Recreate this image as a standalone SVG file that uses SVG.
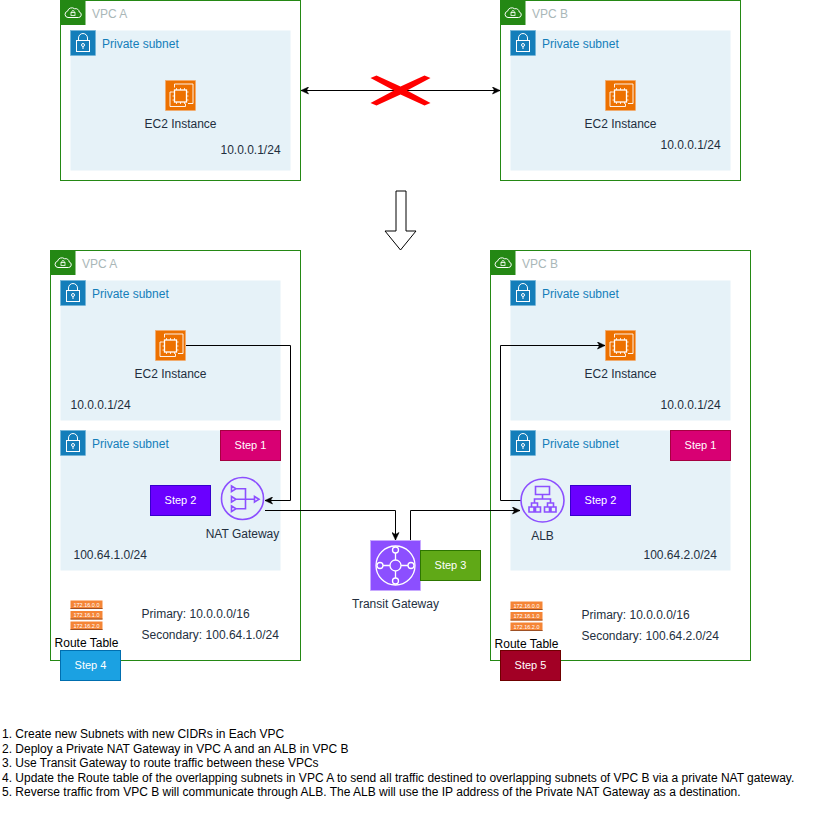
<svg xmlns="http://www.w3.org/2000/svg" width="820" height="821" viewBox="0 0 820 821">
<style>
text{font-family:"Liberation Sans",Arial,sans-serif;font-size:12px;fill:#232F3E}
.vpc{fill:#fff;stroke:#248814;stroke-width:1}
.vl{fill:#AAB7B8}
.sub{fill:#E6F2F8}
.sl{fill:#147EBA}
.blk{fill:#000}
.c{text-anchor:middle}
.st{font-size:11px;fill:#fff;text-anchor:middle}
.conn{fill:none;stroke:#000;stroke-width:1}
.w{fill:none;stroke:#fff}
.p{fill:none;stroke:#8C4FFF;stroke-width:1.6}
.rt{font-size:5.5px;fill:#fff;text-anchor:middle}
</style>
<defs>
<marker id="a" markerWidth="9" markerHeight="8" refX="8" refY="4" orient="auto-start-reverse" markerUnits="userSpaceOnUse"><path d="M0.5 0.5L8 4L0.5 7.5L2.5 4Z" fill="#000" stroke="#000" stroke-width="0.6"/></marker>
<g id="vi">
<rect width="25" height="25" fill="#248814"/>
<path class="w" stroke-width="1" d="M7.500 17.500h10.500a2.800 2.800 0 0 0 .7-5.500a3.500 3.500 0 0 0-4.500-3.200a4.500 4.500 0 0 0-7.200 2.400a3.200 3.200 0 0 0 .5 6.300z"/>
<rect x="10.500" y="12.500" width="4" height="3" class="w" stroke-width="0.800"/><path class="w" stroke-width="0.800" d="M11.300 12.500v-.8a1.200 1.200 0 0 1 2.400 0v.8"/>
</g>
<g id="si">
<rect x="0" y="0" width="25" height="25" fill="#147EBA" stroke="#6fb2d8" stroke-width="0.600"/>
<rect x="6" y="10" width="13" height="11" class="w"/><path class="w" d="M8 10V7.500a4.500 4.500 0 0 1 9 0V10"/><circle cx="12.500" cy="14.500" r="1.500" class="w"/><path class="w" d="M12.500 16v2.500"/>
</g>
<g id="ec">
<rect x="0" y="0" width="30" height="30" fill="#ED7100" stroke="#f5a868" stroke-width="0.600"/>
<path class="w" stroke="#fff" stroke-width="0.900" d="M9 7V3.500h18.500V23h-5"/>
<path class="w" stroke-width="0.900" d="M7 11.500H4.500V26H20v-3"/>
<rect x="9" y="9.500" width="12" height="12" class="w" stroke-width="1.300"/>
<path class="w" stroke-width="0.800" d="M11 7.500v2M15 7.500v2M19 7.500v2M11 21.500v2M15 21.500v2M19 21.500v2M7 11.500h2M7 15.500h2M7 19.500h2M21 11.500h2M21 15.500h2M21 19.500h2"/>
</g>
<g id="rt">
<rect x="0" y="0" width="32" height="8.500" fill="#F58536"/><rect x="0" y="10.500" width="32" height="8.500" fill="#F58536"/><rect x="0" y="21" width="32" height="8.500" fill="#F58536"/>
<rect x="0" y="7.500" width="32" height="1" fill="#9d5025"/><rect x="0" y="18" width="32" height="1" fill="#9d5025"/><rect x="0" y="28.500" width="32" height="1" fill="#9d5025"/>
<text class="rt" x="16" y="6">172.16.0.0</text><text class="rt" x="16" y="16.500">172.16.1.0</text><text class="rt" x="16" y="27">172.16.2.0</text>
</g>
</defs>
<rect width="820" height="821" fill="#fff"/>

<g id="vpc-a-top">
<rect class="vpc" x="60.500" y="0.500" width="240" height="180"/><use href="#vi" x="60.500" y="0"/><text class="vl" x="92" y="18">VPC A</text>
<rect class="sub" x="70.500" y="30.500" width="220" height="140"/><use href="#si" x="70.500" y="30.500"/><text class="sl" x="102" y="48">Private subnet</text>
<use href="#ec" x="165.500" y="80.500"/><text class="c" x="180.500" y="128">EC2 Instance</text><text x="220.500" y="154">10.0.0.1/24</text>
</g>
<g id="vpc-b-top">
<rect class="vpc" x="500.500" y="0.500" width="240" height="180"/><use href="#vi" x="500.500" y="0"/><text class="vl" x="532" y="18">VPC B</text>
<rect class="sub" x="510.500" y="30.500" width="220" height="140"/><use href="#si" x="510.500" y="30.500"/><text class="sl" x="542" y="48">Private subnet</text>
<use href="#ec" x="605.500" y="80.500"/><text class="c" x="620.500" y="128">EC2 Instance</text><text x="660.500" y="149">10.0.0.1/24</text>
</g>
<g id="big-arrow"><path d="M396 191H406V231H416L400.500 250L385 231H396Z" fill="#fff" stroke="#000" stroke-width="1"/></g>

<g id="vpc-a-bottom">
<rect class="vpc" x="50.500" y="250.500" width="250" height="410"/><use href="#vi" x="50.500" y="250"/><text class="vl" x="82" y="268">VPC A</text>
<rect class="sub" x="60.500" y="280.500" width="220" height="140"/><use href="#si" x="60.500" y="280.500"/><text class="sl" x="92" y="298">Private subnet</text>
<rect class="sub" x="60.500" y="430.500" width="220" height="140"/><use href="#si" x="60.500" y="430.500"/><text class="sl" x="92" y="448">Private subnet</text>
<use href="#ec" x="155.500" y="330.500"/><text class="c" x="170.500" y="378">EC2 Instance</text><text x="70.500" y="409">10.0.0.1/24</text>
<text x="73.500" y="559">100.64.1.0/24</text>
<text x="141.500" y="618">Primary: 10.0.0.0/16</text><text x="141.500" y="639">Secondary: 100.64.1.0/24</text>
</g>
<g id="vpc-b-bottom">
<rect class="vpc" x="490.500" y="250.500" width="260" height="410"/><use href="#vi" x="490.500" y="250"/><text class="vl" x="522" y="268">VPC B</text>
<rect class="sub" x="510.500" y="280.500" width="220" height="140"/><use href="#si" x="510.500" y="280.500"/><text class="sl" x="542" y="298">Private subnet</text>
<rect class="sub" x="510.500" y="430.500" width="220" height="140"/><use href="#si" x="510.500" y="430.500"/><text class="sl" x="542" y="448">Private subnet</text>
<use href="#ec" x="605.500" y="330.500"/><text class="c" x="620.500" y="378">EC2 Instance</text><text x="660.500" y="409">10.0.0.1/24</text>
<text x="643.500" y="559">100.64.2.0/24</text>
<text x="581.500" y="619">Primary: 10.0.0.0/16</text><text x="581.500" y="640">Secondary: 100.64.2.0/24</text>
</g>

<g id="connectors">
<path class="conn" marker-start="url(#a)" marker-end="url(#a)" d="M301 90.500H500"/>
<path class="conn" marker-end="url(#a)" d="M186 345.500H290.500V500.500H265"/>
<path class="conn" marker-end="url(#a)" d="M265 510.500H395.500V540"/>
<path class="conn" marker-end="url(#a)" d="M410.500 540V510.500H520"/>
<path class="conn" marker-end="url(#a)" d="M521 500.500H500.500V345.500H605"/>
</g>
<g id="red-cross"><path d="M376.500 75.500L400.500 86.500L424.500 75.500L430.500 78L407 90.500L430.500 103L424.500 105.500L400.500 94.500L376.500 105.500L370.500 103L394 90.500L370.500 78Z" fill="#f00"/></g>

<g id="nat-gateway">
<circle cx="242.500" cy="498.500" r="21" class="p"/>
<path class="p" d="M231.500 486l4.500 2.800l-4.500 2.800zM231.500 496.500l4.500 2.800l-4.500 2.800zM231.500 506l4.500 2.800l-4.500 2.800zM254.500 496.500l4.500 2.800l-4.500 2.800zM236 488.800h9.500v20h-9.500M236 499.300h18.500"/>
<text class="c" x="242.500" y="538">NAT Gateway</text>
</g>
<g id="alb">
<circle cx="542.500" cy="500.500" r="21.500" class="p"/>
<path class="p" stroke-width="1.300" d="M535.500 486.500h14v8h-14zM542.500 494.500v4.500M534.500 503v-4h16v4M531.500 507v-4h6v4M547.500 507v-4h6v4"/>
<path class="p" stroke-width="1.300" d="M529 507h5v5h-5zM535.500 507h5v5h-5zM544.500 507h5v5h-5zM551 507h5v5h-5z"/>
<text class="c" x="542.500" y="540">ALB</text>
</g>
<g id="transit-gateway">
<rect x="370.500" y="540.500" width="50" height="50" fill="#8C4FFF" stroke="#c9aaff" stroke-width="0.800"/>
<g fill="none" stroke="#fff" stroke-width="1.300">
<circle cx="395.500" cy="565.500" r="19.500"/><circle cx="395.500" cy="565.500" r="5.500"/>
<circle cx="395.500" cy="550" r="3" fill="#8C4FFF"/><circle cx="395.500" cy="581" r="3" fill="#8C4FFF"/><circle cx="380" cy="565.500" r="3" fill="#8C4FFF"/><circle cx="411" cy="565.500" r="3" fill="#8C4FFF"/>
<path d="M395.500 553v7M395.500 571v7M383 565.500h7M401 565.500h7"/>
</g>
<text class="c" x="395.500" y="608">Transit Gateway</text>
</g>

<g id="route-table-a"><use href="#rt" x="70.500" y="600.500"/><text class="c blk" x="86.500" y="647">Route Table</text></g>
<g id="route-table-b"><use href="#rt" x="510.500" y="601.500"/><text class="c blk" x="526.500" y="648">Route Table</text></g>

<g id="step1a"><rect x="220.500" y="430.500" width="60" height="30" fill="#D80073" stroke="#A50040"/><text class="st" x="250.500" y="449">Step 1</text></g>
<g id="step2a"><rect x="150.500" y="485.500" width="60" height="30" fill="#6A00FF" stroke="#3700CC"/><text class="st" x="180.500" y="504">Step 2</text></g>
<g id="step1b"><rect x="670.500" y="430.500" width="60" height="30" fill="#D80073" stroke="#A50040"/><text class="st" x="700.500" y="449">Step 1</text></g>
<g id="step2b"><rect x="570.500" y="485.500" width="60" height="30" fill="#6A00FF" stroke="#3700CC"/><text class="st" x="600.500" y="504">Step 2</text></g>
<g id="step3"><rect x="420.500" y="550.500" width="60" height="30" fill="#60A917" stroke="#2D7600"/><text class="st" x="450.500" y="569">Step 3</text></g>
<g id="step4"><rect x="60.500" y="650.500" width="60" height="30" fill="#1BA1E2" stroke="#006EAF"/><text class="st" x="90.500" y="669">Step 4</text></g>
<g id="step5"><rect x="500.500" y="650.500" width="60" height="30" fill="#A20025" stroke="#6F0000"/><text class="st" x="530.500" y="669">Step 5</text></g>

<g id="notes">
<text class="blk" x="2" y="738">1. Create new Subnets with new CIDRs in Each VPC</text>
<text class="blk" x="2" y="753">2. Deploy a Private NAT Gateway in VPC A and an ALB in VPC B</text>
<text class="blk" x="2" y="767">3. Use Transit Gateway to route traffic between these VPCs</text>
<text class="blk" x="2" y="782">4. Update the Route table of the overlapping subnets in VPC A to send all traffic destined to overlapping subnets of VPC B via a private NAT gateway.</text>
<text class="blk" x="2" y="796">5. Reverse traffic from VPC B will communicate through ALB. The ALB will use the IP address of the Private NAT Gateway as a destination.</text>
</g>
</svg>
